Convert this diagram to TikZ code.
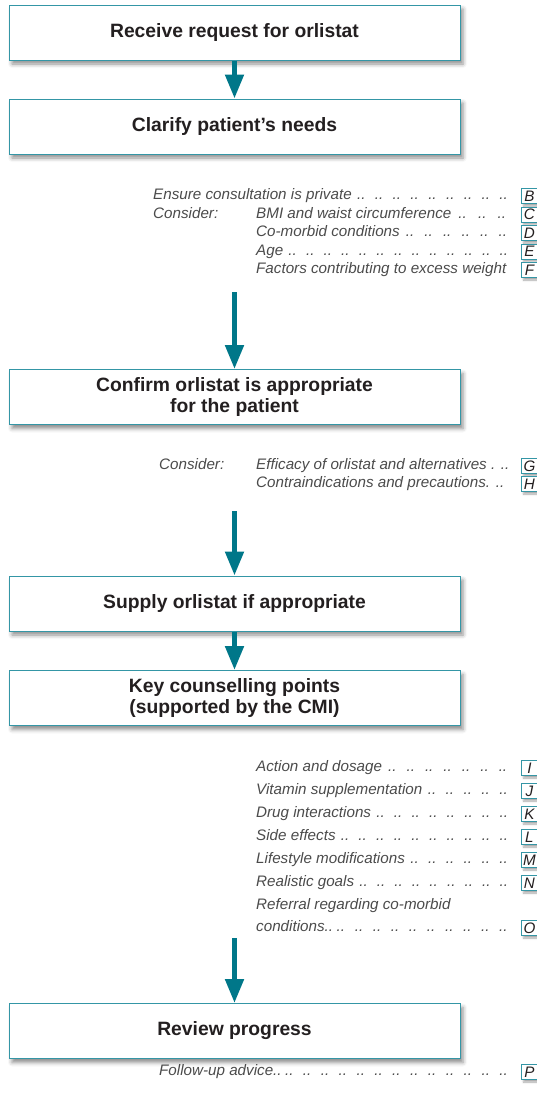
\documentclass[tikz,border=0pt]{standalone}
\usepackage{fontspec}
\setmainfont{Liberation Sans}
\usetikzlibrary{arrows.meta,shadows.blur}
\definecolor{arrowteal}{RGB}{0,119,137}
\definecolor{boxteal}{RGB}{52,150,166}
\definecolor{txtgrey}{RGB}{75,75,75}
\definecolor{boldtxt}{RGB}{35,31,32}
\newcommand\lead{\xleaders\hbox to 17.4pt{..\hss}\hfill}
\newcommand\lrow[2]{\makebox[#1][l]{#2\hspace{5pt}\lead}\strut}
\begin{document}
\begin{tikzpicture}[x=1pt,y=-1pt,
  mainbox/.style={draw=boxteal, line width=1pt, fill=white, minimum width=451pt,
    minimum height=55pt, inner sep=0pt, align=center,
    font=\fontsize{19.3}{21.5}\selectfont\bfseries, text=boldtxt,
    blur shadow={shadow xshift=3pt, shadow yshift=-4pt, shadow blur radius=4pt, shadow opacity=45}},
  flow/.style={line width=5pt, draw=arrowteal, fill=arrowteal,
    -{Triangle[length=24pt,width=18pt]}},
  item/.style={anchor=west, inner sep=0pt,
    font=\fontsize{15.2}{18}\selectfont\itshape, text=txtgrey},
  lbox/.style={draw=boxteal, line width=0.9pt, fill=white, minimum width=16pt,
    minimum height=15pt, inner sep=0pt, anchor=west,
    font=\fontsize{15.2}{18}\selectfont\itshape, text=boldtxt,
    blur shadow={shadow xshift=2pt, shadow yshift=-2.5pt, shadow blur radius=2pt, shadow opacity=35}}
]
\useasboundingbox (0,0) rectangle (537,1111);

% main boxes
\node[mainbox] (b1) at (234.5,32.5) {Receive request for orlistat};
\node[mainbox] (b2) at (234.5,126.5) {Clarify patient’s needs};
\node[mainbox] (b3) at (234.5,397) {Confirm orlistat is appropriate\\for the patient};
\node[mainbox] (b4) at (234.5,603.5) {Supply orlistat if appropriate};
\node[mainbox] (b5) at (234.5,698) {Key counselling points\\(supported by the CMI)};
\node[mainbox] (b6) at (234.5,1031) {Review progress};

% section after b2
\node[item] (tB) at (153,196) {\lrow{364pt}{Ensure consultation is private}};
\node[item] (tC0) at (153,214.5) {Consider:\strut};
\node[item] (tC) at (256,214.5) {\lrow{261pt}{BMI and waist circumference}};
\node[item] (tD) at (256,233) {\lrow{261pt}{Co-morbid conditions}};
\node[item] (tE) at (256,251.5) {\lrow{261pt}{Age}};
\node[item] (tF) at (256,270) {Factors contributing to excess weight\strut};
\node[lbox] (lB) at (521,196) {B};
\node[lbox] (lC) at (521,214.5) {C};
\node[lbox] (lD) at (521,233) {D};
\node[lbox] (lE) at (521,251.5) {E};
\node[lbox] (lF) at (521,270) {F};

% section after b3
\node[item] (tG0) at (159,466) {Consider:\strut};
\node[item] (tG) at (256,466) {Efficacy of orlistat and alternatives . ..\strut};
\node[item] (tH) at (256,484) {Contraindications and precautions. ..\strut};
\node[lbox] (lG) at (521,466) {G};
\node[lbox] (lH) at (521,484) {H};

% section after b5
\node[item] (tI) at (256,768) {\lrow{261pt}{Action and dosage}};
\node[item] (tJ) at (256,791) {\lrow{261pt}{Vitamin supplementation}};
\node[item] (tK) at (256,814) {\lrow{261pt}{Drug interactions}};
\node[item] (tL) at (256,837) {\lrow{261pt}{Side effects}};
\node[item] (tM) at (256,860) {\lrow{261pt}{Lifestyle modifications}};
\node[item] (tN) at (256,883) {\lrow{261pt}{Realistic goals}};
\node[item] (tO1) at (256,906) {Referral regarding co-morbid\strut};
\node[item] (tO) at (256,928) {\makebox[261pt][l]{conditions..\hspace{3pt}\lead}\strut};
\node[lbox] (lI) at (521,768) {I};
\node[lbox] (lJ) at (521,791) {J};
\node[lbox] (lK) at (521,814) {K};
\node[lbox] (lL) at (521,837) {L};
\node[lbox] (lM) at (521,860) {M};
\node[lbox] (lN) at (521,883) {N};
\node[lbox] (lO) at (521,928) {O};

% section after b6
\node[item] (tP) at (159,1072) {\makebox[358pt][l]{Follow-up advice..\hspace{3pt}\lead}\strut};
\node[lbox] (lP) at (521,1072) {P};

% connectors
\coordinate (s2) at (234.5,292);
\coordinate (s3) at (234.5,511);
\coordinate (s5) at (234.5,938);
\draw[flow] (b1) -- (b2);
\draw[flow] (s2) -- (b3);
\draw[flow] (s3) -- (b4);
\draw[flow] (b4) -- (b5);
\draw[flow] (s5) -- (b6);
\end{tikzpicture}
\end{document}
